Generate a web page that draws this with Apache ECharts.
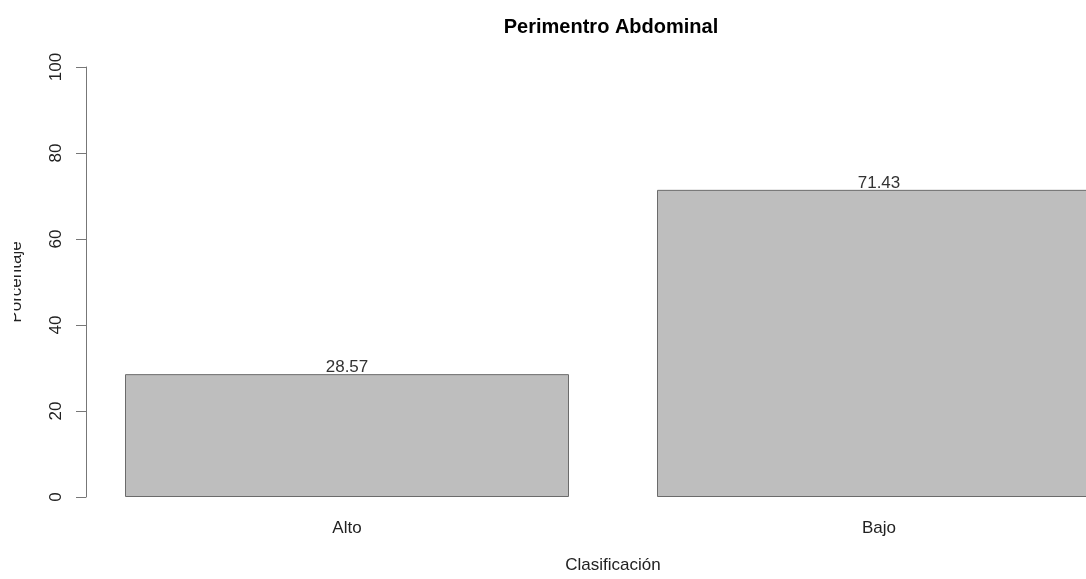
<!DOCTYPE html>
<html>
<head>
<meta charset="utf-8">
<script src="https://cdn.jsdelivr.net/npm/echarts@6/dist/echarts.min.js"></script>
<style>
  html, body { margin: 0; padding: 0; background: #fff; }
  #main { width: 1086px; height: 579px; }
</style>
</head>
<body>
<div id="main"></div>
<script>
// data
var categories = ['Alto', 'Bajo'];
var percents = [28.57, 71.43];
var yTicks = [0, 20, 40, 60, 80, 100];

var font = "'Liberation Sans', Arial, sans-serif";

var myChart = echarts.init(document.getElementById('main'));
var option;

option = {
  backgroundColor: '#fff',
  animation: false,
  title: {
    text: 'Perimentro Abdominal',
    left: 611,
    top: 17,
    padding: 0,
    textAlign: 'center',
    textStyle: {
      fontFamily: font,
      fontSize: 20,
      fontWeight: 'bold',
      color: '#000'
    }
  },
  grid: {
    left: 81,
    width: 1064,
    top: 67,
    bottom: 82,
    outerBoundsMode: 'none',
    containLabel: false
  },
  xAxis: {
    type: 'category',
    data: categories,
    name: 'Clasificación',
    nameLocation: 'middle',
    nameGap: 60,
    nameTextStyle: { fontFamily: font, fontSize: 17, color: '#222' },
    axisLine: { show: false },
    axisTick: { show: false },
    axisLabel: { fontFamily: font, fontSize: 17, color: '#222', margin: 23 }
  },
  yAxis: {
    type: 'value',
    min: yTicks[0],
    max: yTicks[yTicks.length - 1],
    interval: 20,
    offset: -5,
    name: 'Porcentaje',
    nameLocation: 'middle',
    nameGap: 61,
    nameTextStyle: { fontFamily: font, fontSize: 17, color: '#222' },
    axisLine: { show: true, lineStyle: { color: '#777', width: 1 } },
    axisTick: { show: true, length: 10, lineStyle: { color: '#777' } },
    axisLabel: { fontFamily: font, fontSize: 17, color: '#222', rotate: 90, margin: 21 },
    splitLine: { show: false }
  },
  graphic: [
    {
      type: 'rect',
      left: 0,
      top: 0,
      z: 100,
      shape: { width: 14, height: 579 },
      style: { fill: '#fff' }
    }
  ],
  series: [
    {
      type: 'bar',
      data: percents,
      barWidth: 444,
      itemStyle: { color: '#bebebe', borderColor: '#6b6b6b', borderWidth: 1 },
      label: {
        show: true,
        position: 'top',
        distance: -2,
        fontFamily: font,
        fontSize: 17,
        color: '#333',
        formatter: function (p) { return p.value.toFixed(2); }
      }
    }
  ]
};

option && myChart.setOption(option);
</script>
</body>
</html>
